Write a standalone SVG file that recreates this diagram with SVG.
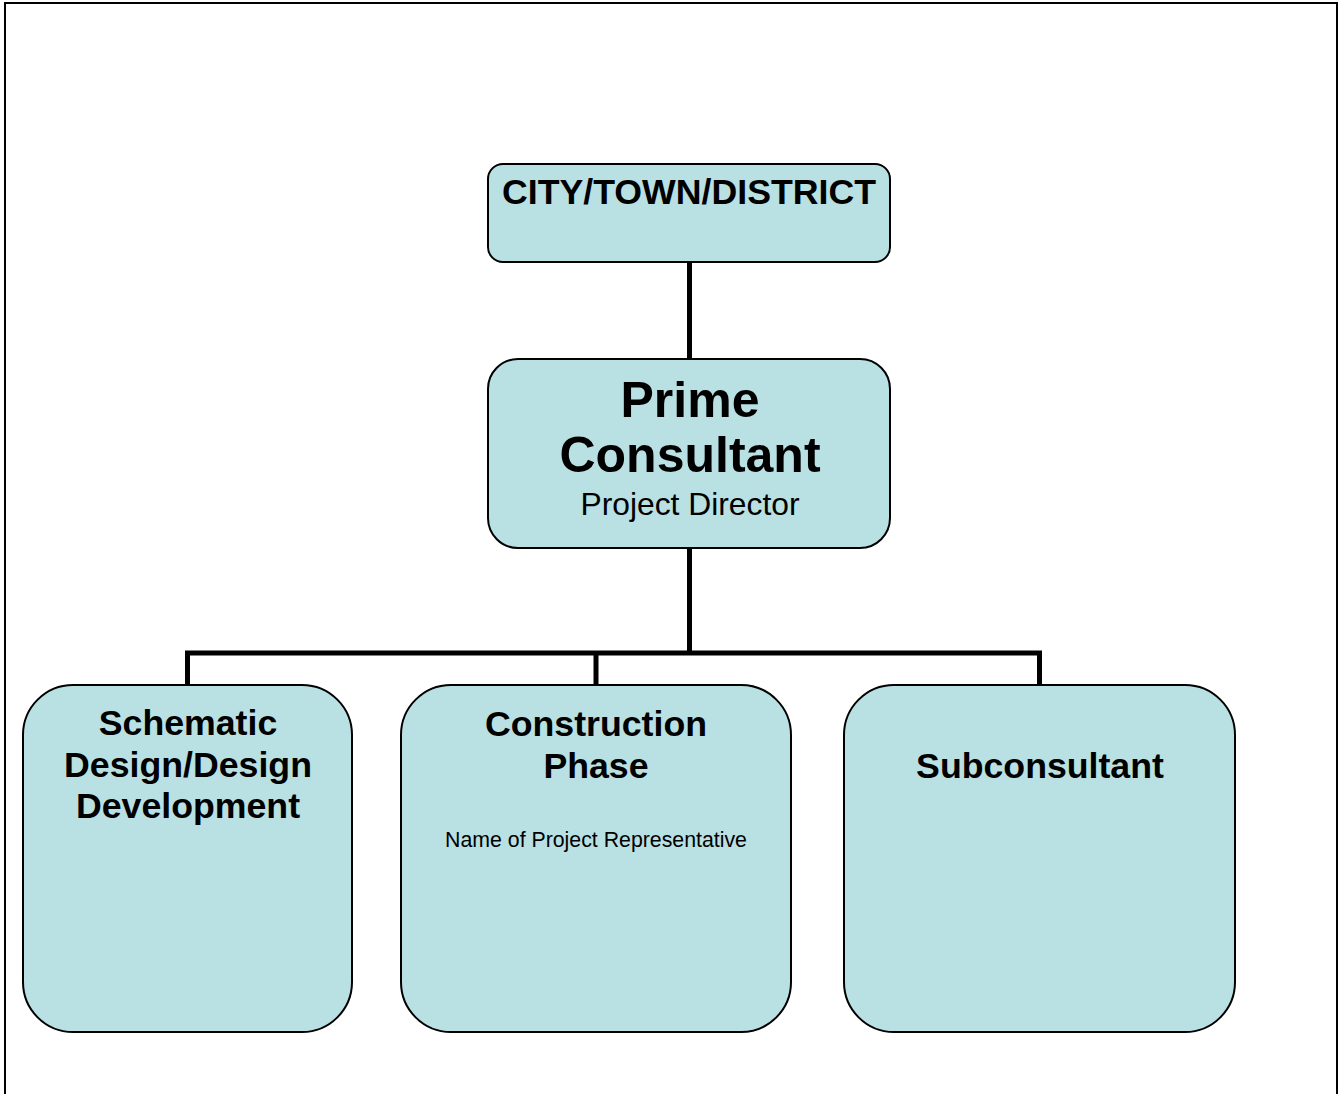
<svg xmlns="http://www.w3.org/2000/svg" width="1339" height="1094" viewBox="0 0 1339 1094">
  <style>
    .box { fill: #B9E0E3; stroke: #000; stroke-width: 2; }
    .link { fill: none; stroke: #000; stroke-width: 5; stroke-linejoin: miter; stroke-linecap: butt; }
    .frame { fill: none; stroke: #000; stroke-width: 2; }
    text { font-family: "Liberation Sans", Arial, sans-serif; fill: #000; text-anchor: middle; }
    .b { font-weight: bold; }
  </style>
  <rect width="1339" height="1094" fill="#fff"/>
  <!-- page frame (open at the bottom) -->
  <path class="frame" d="M5,1094 V3 H1337 V1094"/>

  <g id="connectors">
    <line class="link" x1="689.5" y1="262" x2="689.5" y2="359"/>
    <line class="link" x1="689.5" y1="548" x2="689.5" y2="653"/>
    <path class="link" d="M187.5,685 V653 H1039.5 V685"/>
    <line class="link" x1="596" y1="653" x2="596" y2="685"/>
  </g>

  <g id="city">
    <rect class="box" x="488" y="164" width="402" height="98" rx="15"/>
    <text class="b" x="689" y="204" font-size="35.7">CITY/TOWN/DISTRICT</text>
  </g>

  <g id="prime">
    <rect class="box" x="488" y="359" width="402" height="189" rx="30"/>
    <text class="b" x="690" y="417" font-size="50">Prime</text>
    <text class="b" x="690" y="472" font-size="50">Consultant</text>
    <text x="690" y="515" font-size="31.8">Project Director</text>
  </g>

  <g id="design">
    <rect class="box" x="23" y="685" width="329" height="347" rx="50"/>
    <text class="b" x="188" y="735" font-size="35.7">Schematic</text>
    <text class="b" x="188" y="776.5" font-size="35.7">Design/Design</text>
    <text class="b" x="188" y="818" font-size="35.7">Development</text>
  </g>

  <g id="construction">
    <rect class="box" x="401" y="685" width="390" height="347" rx="50"/>
    <text class="b" x="596" y="736" font-size="35.7">Construction</text>
    <text class="b" x="596" y="778" font-size="35.7">Phase</text>
    <text x="596" y="847" font-size="21.3">Name of Project Representative</text>
  </g>

  <g id="subconsultant">
    <rect class="box" x="844" y="685" width="391" height="347" rx="50"/>
    <text class="b" x="1040" y="778" font-size="35.7">Subconsultant</text>
  </g>
</svg>
